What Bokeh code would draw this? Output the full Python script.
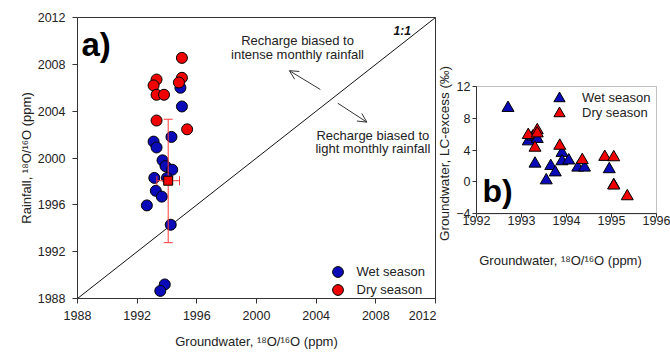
from bokeh.plotting import figure
from bokeh.layouts import row
from bokeh.models import (Range1d, FixedTicker, Legend, LegendItem, Label, Arrow,
                          OpenHead, Whisker, TeeHead, ColumnDataSource, BoxAnnotation)
from bokeh.embed import file_html
from bokeh.resources import INLINE
import math

# ---------------- data: panel a ----------------
wet_a_x = [1994.9, 1995.0, 1994.3, 1993.1, 1993.3, 1993.7, 1993.9, 1994.35,
           1993.15, 1994.0, 1993.25, 1993.65, 1992.65, 1994.25, 1993.85, 1993.55]
wet_a_y = [2006.0, 2004.4, 2001.8, 2001.4, 2000.9, 1999.8, 1999.3, 1999.0,
           1998.3, 1998.3, 1997.2, 1996.7, 1995.95, 1994.3, 1989.2, 1988.65]
dry_a_x = [1995.0, 1995.0, 1994.8, 1993.3, 1993.1, 1993.3, 1993.8, 1993.3, 1995.35]
dry_a_y = [2008.55, 2006.85, 2006.45, 2006.7, 2006.2, 2005.4, 2005.4, 2003.2, 2002.45]
mean_x = [1994.08]
mean_y = [1998.06]
mean_x_lo = [1993.32]
mean_x_hi = [1994.84]
mean_y_lo = [1992.77]
mean_y_hi = [2003.31]
one_to_one = [1988, 2012]
ticks_a = [1988, 1992, 1996, 2000, 2004, 2008, 2012]

# ---------------- data: panel b ----------------
wet_b_x = [1992.7, 1993.15, 1993.25, 1993.35, 1993.3, 1993.55, 1993.65, 1993.75,
           1993.9, 1993.9, 1994.05, 1994.25, 1994.4, 1994.95, 1995.05]
wet_b_y = [9.3, 5.1, 5.7, 5.4, 2.3, 0.2, 2.0, 1.2, 3.65, 2.6, 2.7, 1.8, 1.8, 1.6, -0.4]
dry_b_x = [1993.15, 1993.35, 1993.35, 1993.3, 1993.85, 1994.35, 1994.85, 1995.05,
           1995.05, 1995.35]
dry_b_y = [5.9, 6.5, 6.1, 4.3, 4.55, 2.75, 3.15, 3.1, -0.45, -1.8]
ticks_bx = [1992, 1993, 1994, 1995, 1996]
ticks_by = [-4, 0, 4, 8, 12]
b_x_lim = (1992, 1996)
b_y_lim = (-4, 12)

FONT = "Liberation Sans"
BLUE = "#0a0ab8"
RED = "#f00000"
INK = "#222222"
AX = "#333333"

# layout constants (pixels)
H = 354
TOP, BOTTOM = 17, 56            # shared frame borders (row aligns them)
WA, WB = 436, 234
B_LEFT_PX, B_RIGHT_PX = 476, 656  # where panel b's box sits on the page
B_TOP_PX, B_BOT_PX = 86, 213.3
FB = H - BOTTOM                 # frame bottom on the page


def style(p, tick_out, standoff, tick_size="12.5px"):
    p.background_fill_color = "white"
    p.border_fill_color = "white"
    p.xgrid.visible = False
    p.ygrid.visible = False
    for ax in (p.xaxis[0], p.yaxis[0]):
        ax.axis_line_color = AX
        ax.major_tick_line_color = AX
        ax.major_tick_out = tick_out
        ax.major_tick_in = 0
        ax.minor_tick_line_color = None
        ax.major_label_text_font = FONT
        ax.major_label_text_font_size = tick_size
        ax.major_label_text_color = INK
        ax.major_label_standoff = standoff
        ax.axis_label_text_font = FONT
        ax.axis_label_text_font_style = "normal"
        ax.axis_label_text_color = INK


def one_legend(renderer, label, x, y, gw, standoff):
    return Legend(items=[LegendItem(label=label, renderers=[renderer])],
                  location=(x, y), glyph_width=gw, glyph_height=gw, label_height=gw,
                  label_standoff=standoff, padding=0, margin=0, spacing=0,
                  border_line_color=None, background_fill_alpha=0,
                  label_text_font=FONT, label_text_font_size="13px",
                  label_text_color=INK)


# ================= panel a =================
pa = figure(width=WA, height=H, output_backend="svg", toolbar_location=None,
            x_range=Range1d(1988, 2012), y_range=Range1d(1988, 2012),
            min_border_left=77, min_border_right=1, min_border_top=TOP,
            min_border_bottom=BOTTOM)
style(pa, 5, 7)
pa.outline_line_color = AX
pa.xaxis[0].ticker = FixedTicker(ticks=ticks_a)
pa.yaxis[0].ticker = FixedTicker(ticks=ticks_a)
pa.xaxis[0].axis_label = "Groundwater, \u00b9\u2078O/\u00b9\u2076O (ppm)"
pa.xaxis[0].axis_label_text_font_size = "13px"
pa.xaxis[0].axis_label_standoff = 11
pa.yaxis[0].axis_label = "Rainfall, \u00b9\u2078O/\u00b9\u2076O (ppm)"
pa.yaxis[0].axis_label_text_font_size = "13px"
pa.yaxis[0].axis_label_standoff = 1

pa.line(one_to_one, one_to_one, line_color="#111111", line_width=1)

r_wet_a = pa.scatter(wet_a_x, wet_a_y, marker="circle", size=11, fill_color=BLUE,
                     line_color="black", line_width=1)
r_dry_a = pa.scatter(dry_a_x, dry_a_y, marker="circle", size=11, fill_color=RED,
                     line_color="black", line_width=1)

err_src = ColumnDataSource(dict(x=mean_x, y=mean_y, xl=mean_x_lo, xh=mean_x_hi,
                                yl=mean_y_lo, yh=mean_y_hi))
ERR = "#ff3a3a"
for base, lo, hi, dim in (("x", "yl", "yh", "height"), ("y", "xl", "xh", "width")):
    pa.add_layout(Whisker(source=err_src, base=base, lower=lo, upper=hi, dimension=dim,
                          line_color=ERR, line_width=1, level="annotation",
                          upper_head=TeeHead(size=9, line_color=ERR, line_width=1),
                          lower_head=TeeHead(size=9, line_color=ERR, line_width=1)))
r_mean = pa.scatter("x", "y", source=err_src, marker="square", size=9,
                    fill_color=RED, line_color="black", line_width=1)
r_mean.level = "overlay"

# texts and arrows
for (tx, ty, tt) in [(2002.75, 2010.0, "Recharge biased to"),
                     (2002.75, 2008.8, "intense monthly rainfall"),
                     (2007.8, 2001.92, "Recharge biased to"),
                     (2007.8, 2000.79, "light monthly rainfall")]:
    pa.add_layout(Label(x=tx, y=ty, text=tt, text_font=FONT, text_font_size="13px",
                        text_color=INK, text_align="center", text_baseline="middle"))
pa.add_layout(Label(x=2010.35, y=2010.85, text="1:1", text_font=FONT,
                    text_font_size="12px", text_font_style="bold italic",
                    text_color="#111111", text_align="right",
                    text_baseline="alphabetic"))
pa.add_layout(Arrow(x_start=2004.28, y_start=2005.85, x_end=2002.2, y_end=2007.46,
                    line_color="#333333", line_width=1,
                    end=OpenHead(size=9, line_color="#333333", line_width=1)))
pa.add_layout(Arrow(x_start=2005.45, y_start=2004.68, x_end=2007.4, y_end=2003.06,
                    line_color="#333333", line_width=1,
                    end=OpenHead(size=9, line_color="#333333", line_width=1)))
pa.add_layout(Label(x=4, y=254, x_units="screen", y_units="screen", text="a)",
                    text_font=FONT, text_font_size="33px", text_font_style="bold",
                    text_color="black", text_baseline="alphabetic"))

# two one-item legends so that the rows can sit close together
pa.add_layout(one_legend(r_wet_a, "Wet season", 337 - 77 - 13.5, FB - 271 - 13.5, 27, 6))
pa.add_layout(one_legend(r_dry_a, "Dry season", 337 - 77 - 13.5, FB - 289 - 13.5, 27, 6))

# ================= panel b =================
# The row aligns frame top/bottom, so panel b's frame is as tall as panel a's and
# spans the whole right-hand canvas; its ranges are widened so that b_x_lim/b_y_lim
# fall on the box drawn at B_*_PX, and its axes are fixed at the box edges.
fl, fr = WA, WA + WB
ft, fbm = TOP, FB
xpp = (b_x_lim[1] - b_x_lim[0]) / (B_RIGHT_PX - B_LEFT_PX)
ypp = (b_y_lim[1] - b_y_lim[0]) / (B_BOT_PX - B_TOP_PX)
bx_range = Range1d(b_x_lim[0] - (B_LEFT_PX - fl) * xpp, b_x_lim[1] + (fr - B_RIGHT_PX) * xpp)
by_range = Range1d(b_y_lim[0] - (fbm - B_BOT_PX) * ypp, b_y_lim[1] + (B_TOP_PX - ft) * ypp)

pb = figure(width=WB, height=H, output_backend="svg", toolbar_location=None,
            x_range=bx_range, y_range=by_range,
            min_border_left=0, min_border_right=0, min_border_top=TOP,
            min_border_bottom=BOTTOM)
style(pb, 4, 2)
pb.outline_line_color = None
pb.xaxis[0].ticker = FixedTicker(ticks=ticks_bx)
pb.yaxis[0].ticker = FixedTicker(ticks=ticks_by)
pb.xaxis[0].bounds = b_x_lim
pb.yaxis[0].bounds = b_y_lim
pb.xaxis[0].fixed_location = b_y_lim[0]
pb.yaxis[0].fixed_location = b_x_lim[0]
pb.xaxis[0].major_label_standoff = -2

pb.add_layout(BoxAnnotation(left=b_x_lim[0], right=b_x_lim[1], bottom=b_y_lim[0],
                            top=b_y_lim[1], fill_color=None, line_color=AX,
                            line_width=1))

r_wet_b = pb.scatter(wet_b_x, wet_b_y, marker="triangle", size=12, fill_color=BLUE,
                     line_color="black", line_width=1)
r_dry_b = pb.scatter(dry_b_x, dry_b_y, marker="triangle", size=12, fill_color=RED,
                     line_color="black", line_width=1)

pb.add_layout(Label(x=444 - fl, y=FB - 153, x_units="screen", y_units="screen",
                    text="Groundwater, LC-excess (\u2030)", angle=math.pi / 2,
                    text_font=FONT, text_font_size="13.5px", text_color=INK,
                    text_align="center", text_baseline="middle"))
pb.add_layout(Label(x=560 - fl, y=FB - 259.5, x_units="screen", y_units="screen",
                    text="Groundwater, \u00b9\u2078O/\u00b9\u2076O (ppm)",
                    text_font=FONT, text_font_size="13px", text_color=INK,
                    text_align="center", text_baseline="middle"))
pb.add_layout(Label(x=482 - fl, y=FB - 190, x_units="screen", y_units="screen",
                    text="b)", text_font=FONT, text_font_size="32px",
                    text_font_style="bold", text_color="black",
                    text_baseline="alphabetic"))

pb.add_layout(one_legend(r_wet_b, "Wet season", 559 - fl - 14, FB - 97.7 - 14, 28, 9))
pb.add_layout(one_legend(r_dry_b, "Dry season", 559 - fl - 14, FB - 112.7 - 14, 28, 9))

layout = row(pa, pb)
open("out.html", "w").write(file_html(layout, INLINE))
